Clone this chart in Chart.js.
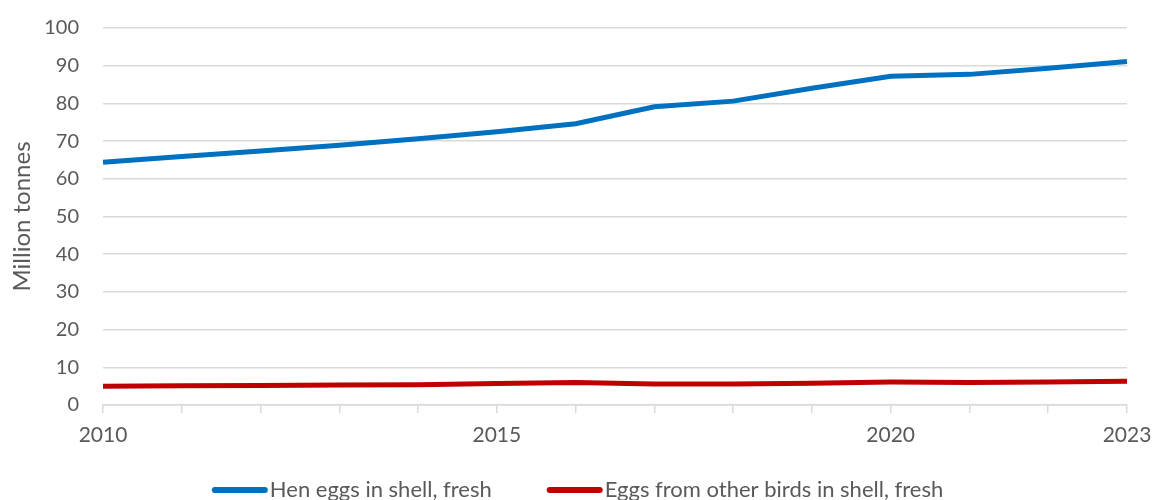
<!DOCTYPE html>
<html>
<head>
<meta charset="utf-8">
<script src="https://cdn.jsdelivr.net/npm/chart.js@4/dist/chart.umd.min.js"></script>
<style>
  html, body { margin: 0; padding: 0; background: #fff; }
  #wrap { width: 1153px; height: 500px; }
</style>
</head>
<body>
<div id="wrap"><canvas id="myChart" width="1153" height="500"></canvas></div>
<script>
// production by year, million tonnes
const years = ['2010','2011','2012','2013','2014','2015','2016','2017','2018','2019','2020','2021','2022','2023'];
const henEggs = [64.4, 65.9, 67.4, 68.9, 70.6, 72.5, 74.6, 79.1, 80.6, 84.0, 87.2, 87.7, 89.3, 91.1];
const otherEggs = [5.0, 5.1, 5.2, 5.3, 5.4, 5.7, 6.0, 5.6, 5.6, 5.8, 6.1, 6.0, 6.1, 6.3];
const shownYears = ['2010', '2015', '2020', '2023'];
const seriesNames = ['Hen eggs in shell, fresh', 'Eggs from other birds in shell, fresh'];

const grey = '#595959';
const gridGrey = '#d9d9d9';
const font = 'Lato';

Chart.defaults.font.family = font;
Chart.defaults.color = grey;

// legend drawn by hand: a short thick line right up against the label
const lineLegend = {
    id: 'lineLegend',
    afterDraw(chart) {
        const ctx = chart.ctx;
        const lineLen = 56, gapText = 2, gapItem = 55, y = 490;
        ctx.save();
        ctx.font = '22px ' + font;
        const items = chart.data.datasets.map(ds => ({
            color: ds.borderColor,
            text: ds.label,
            w: lineLen + gapText + ctx.measureText(ds.label).width
        }));
        let total = items.reduce((s, it) => s + it.w, 0) + gapItem * (items.length - 1);
        let x = chart.width / 2 - total / 2 + 1;
        items.forEach(it => {
            ctx.strokeStyle = it.color;
            ctx.lineWidth = 6;
            ctx.lineCap = 'round';
            ctx.beginPath();
            ctx.moveTo(x + 3, y);
            ctx.lineTo(x + lineLen - 3, y);
            ctx.stroke();
            ctx.fillStyle = grey;
            ctx.textBaseline = 'middle';
            ctx.textAlign = 'left';
            ctx.fillText(it.text, x + lineLen + gapText, y);
            x += it.w + gapItem;
        });
        ctx.restore();
    }
};

var myChart = new Chart(document.getElementById('myChart'), {
    type: 'line',
    data: {
        labels: years,
        datasets: [{
            label: seriesNames[0],
            data: henEggs,
            borderColor: '#0070C0',
            backgroundColor: '#0070C0',
            borderWidth: 5,
            pointRadius: 0,
            tension: 0
        }, {
            label: seriesNames[1],
            data: otherEggs,
            borderColor: '#C00000',
            backgroundColor: '#C00000',
            borderWidth: 5,
            pointRadius: 0,
            tension: 0
        }]
    },
    options: {
        responsive: false,
        animation: false,
        layout: { padding: { top: 28, right: 26, left: 0, bottom: 50 } },
        plugins: {
            tooltip: { enabled: false },
            legend: { display: false }
        },
        scales: {
            x: {
                offset: false,
                grid: {
                    drawOnChartArea: false,
                    drawTicks: true,
                    tickLength: 8,
                    color: gridGrey,
                    lineWidth: 1.5
                },
                border: { color: gridGrey, width: 1.5 },
                ticks: {
                    autoSkip: false,
                    maxRotation: 0,
                    padding: 10,
                    font: { size: 21 },
                    color: grey,
                    callback: function(val) {
                        const lab = this.getLabelForValue(val);
                        return shownYears.includes(lab) ? lab : '';
                    }
                },
                // fixed axis height, and no extra side room for the end labels
                afterFit: scale => {
                    scale.height = 45;
                    scale.paddingLeft = 0;
                    scale.paddingRight = 0;
                }
            },
            y: {
                min: 0,
                max: 100,
                ticks: { stepSize: 10, font: { size: 20 }, color: grey, padding: 24 },
                grid: { color: gridGrey, lineWidth: 1.5, drawTicks: false },
                border: { display: false },
                title: {
                    display: true,
                    text: 'Million tonnes',
                    font: { size: 24 },
                    color: grey,
                    padding: { top: 8, bottom: 0 }
                },
                afterFit: scale => {
                    scale.width = 103;
                    scale.paddingTop = 0;
                    scale.paddingBottom = 0;
                }
            }
        }
    },
    plugins: [lineLegend]
});
</script>
</body>
</html>
